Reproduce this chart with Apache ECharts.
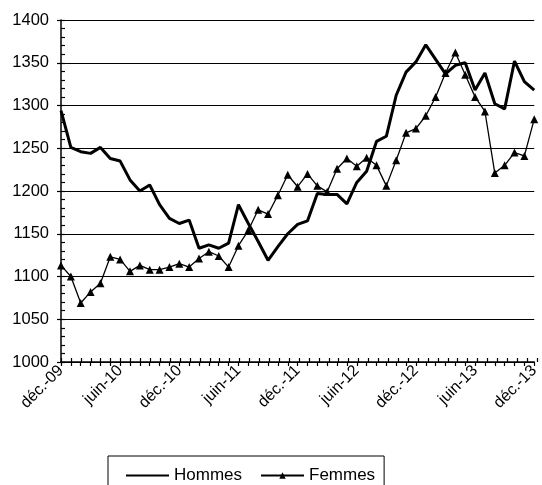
<!DOCTYPE html>
<html>
<head>
<meta charset="utf-8">
<script src="https://cdn.jsdelivr.net/npm/echarts@6/dist/echarts.min.js"></script>
<style>html,body{margin:0;padding:0;background:#fff}#c{width:542px;height:485px}</style>
</head>
<body>
<div id="c"></div>
<script>
const monthNames = ['janv.','févr.','mars','avr.','mai','juin','juil.','août','sept.','oct.','nov.','déc.'];
const categories = [];
for (let y = 2009, m = 11; categories.length < 49; ) {
  categories.push(monthNames[m] + '-' + String(y).slice(2));
  m++; if (m === 12) { m = 0; y++; }
}
const hommes = [1294,1251,1246,1244,1251,1238,1235,1213,1200,1207,1184,1168,1162,1166,1133,1137,1133,1139,1184,1162,1141,1119,1135,1150,1161,1165,1197,1196,1196,1185,1210,1223,1258,1264,1312,1339,1351,1371,1354,1337,1347,1350,1318,1338,1302,1296,1352,1328,1318];
const femmes = [1113,1100,1069,1082,1092,1123,1120,1106,1113,1108,1108,1111,1115,1111,1121,1129,1124,1111,1136,1154,1178,1173,1195,1219,1205,1220,1206,1199,1226,1238,1229,1239,1230,1206,1236,1268,1273,1288,1310,1338,1362,1336,1310,1293,1221,1230,1245,1241,1284];
const yTicks = {min: 1000, max: 1400, interval: 50};

const font = 'Liberation Sans, Arial, sans-serif';
const chart = echarts.init(document.getElementById('c'), null, {renderer: 'canvas'});
const gridBox = {left: 61, right: 5, top: 20, bottom: 123, containLabel: false};
chart.setOption({
  animation: false,
  backgroundColor: '#fff',
  grid: [Object.assign({}, gridBox), Object.assign({}, gridBox)],
  xAxis: [{
    type: 'category', data: categories, boundaryGap: false, gridIndex: 0,
    axisLine: {lineStyle: {color: '#000', width: 1.5}},
    axisTick: {interval: 0, length: 4, lineStyle: {color: '#000', width: 1.2}},
    axisLabel: {interval: 5, rotate: 45, color: '#000', fontFamily: font, fontSize: 16, margin: 6},
    splitLine: {show: false}
  }, {
    type: 'category', data: categories, boundaryGap: false, gridIndex: 1,
    axisLine: {show: false},
    axisTick: {interval: 0, inside: true, length: 4, lineStyle: {color: '#000', width: 1.2}},
    axisLabel: {show: false},
    splitLine: {show: false}
  }],
  yAxis: [{
    type: 'value', gridIndex: 0, min: yTicks.min, max: yTicks.max, interval: yTicks.interval,
    axisLine: {show: true, lineStyle: {color: '#000', width: 1.5}},
    axisTick: {show: true, length: 4, lineStyle: {color: '#000', width: 1.2}},
    axisLabel: {color: '#000', fontFamily: font, fontSize: 16.5, margin: 12, formatter: v => String(v)},
    splitLine: {show: true, lineStyle: {color: '#000', width: 1.2}}
  }, {
    type: 'value', gridIndex: 1, min: yTicks.min, max: yTicks.max, interval: 10,
    axisLine: {show: false},
    axisTick: {show: true, inside: true, length: 4, lineStyle: {color: '#000', width: 1.2}},
    axisLabel: {show: false},
    splitLine: {show: false}
  }],
  legend: {
    left: 108, top: 456,
    borderColor: '#000', borderWidth: 1,
    padding: [11, 9, 10, 17],
    itemWidth: 43, itemHeight: 8, itemGap: 18,
    textStyle: {color: '#000', fontFamily: font, fontSize: 17},
    data: [
      {name: 'Hommes', itemStyle: {color: 'rgba(0,0,0,0)', borderWidth: 0, opacity: 0}},
      {name: 'Femmes'}
    ]
  },
  series: [{
    name: 'Hommes', type: 'line', data: hommes, xAxisIndex: 0, yAxisIndex: 0,
    symbol: 'none', lineStyle: {color: '#000', width: 3}, itemStyle: {color: '#000'}
  }, {
    name: 'Femmes', type: 'line', data: femmes, xAxisIndex: 0, yAxisIndex: 0,
    symbol: 'triangle', symbolSize: 8, showAllSymbol: true,
    lineStyle: {color: '#000', width: 1.3}, itemStyle: {color: '#000'}
  }]
});
</script>
</body>
</html>
